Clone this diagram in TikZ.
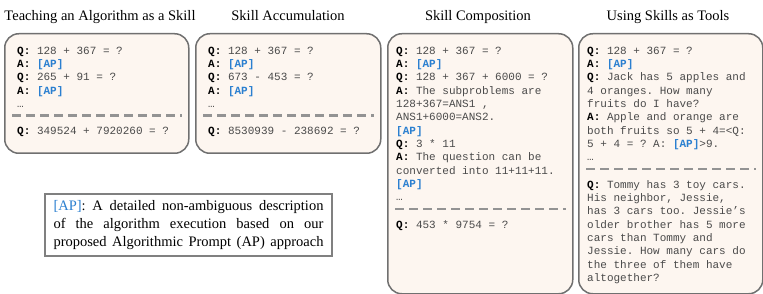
\documentclass[tikz,border=0pt]{standalone}
\usepackage{fontspec}
\setmainfont{Liberation Serif}
\setmonofont{Liberation Mono}
\usetikzlibrary{positioning, calc}
\definecolor{panelfill}{HTML}{FDF6F0}
\definecolor{panelline}{HTML}{707070}
\definecolor{apblue}{HTML}{2A7FD0}
\definecolor{qatext}{HTML}{4A4A4A}
\newcommand{\qlab}{\textbf{\color{black}Q:}}
\newcommand{\alab}{\textbf{\color{black}A:}}
\newcommand{\aptag}{\textbf{\color{apblue}[AP]}}
\tikzstyle{panel} = [rectangle, rounded corners=14pt, draw=panelline, line width=1.5pt, fill=panelfill, anchor=north west]
\tikzstyle{qa} = [anchor=north west, inner sep=0pt, align=left, text=qatext, font=\ttfamily\fontsize{11}{13.33}\selectfont]
\tikzstyle{paneltitle} = [anchor=base, font=\fontsize{14.5}{17}\selectfont]
\tikzstyle{dashsep} = [draw=gray!85, line width=2.5pt, dash pattern=on 9pt off 5pt]
\tikzstyle{legend} = [rectangle, draw=gray, line width=1.2pt, fill=white, inner xsep=8.5pt, inner ysep=5pt, minimum height=62pt, align=left, font=\fontsize{14.5}{18}\selectfont]

\begin{document}
\begin{tikzpicture}[x=1pt, y=-1pt]
    \useasboundingbox (0,0) rectangle (763,294);

    % panels
    \node[panel, minimum width=184pt, minimum height=119.5pt] (teach) at (4,33) {};
    \node[panel, minimum width=185pt, minimum height=119.5pt] (accum) at (195,33) {};
    \node[panel, minimum width=185pt, minimum height=260pt] (compo) at (387,33) {};
    \node[panel, minimum width=184pt, minimum height=260pt] (tools) at (578,33) {};

    % titles
    \node[paneltitle] (teachtitle) at (100,21) {Teaching an Algorithm as a Skill};
    \node[paneltitle] (accumtitle) at (288,21) {Skill Accumulation};
    \node[paneltitle] (compotitle) at (478,21) {Skill Composition};
    \node[paneltitle] (toolstitle) at (668,21) {Using Skills as Tools};

    % examples
    \node[qa] (teachex) at ($(teach.north west)+(13,13.5)$) {\qlab{} 128 + 367 = ?\\ \alab{} \aptag\\ \qlab{} 265 + 91 = ?\\ \alab{} \aptag\\ …};
    \node[qa] (accumex) at ($(accum.north west)+(13,13.5)$) {\qlab{} 128 + 367 = ?\\ \alab{} \aptag\\ \qlab{} 673 - 453 = ?\\ \alab{} \aptag\\ …};
    \node[qa] (compoex) at ($(compo.north west)+(9,13.5)$) {\qlab{} 128 + 367 = ?\\ \alab{} \aptag\\ \qlab{} 128 + 367 + 6000 = ?\\ \alab{} The subproblems are\\ 128+367=ANS1 ,\\ ANS1+6000=ANS2.\\ \aptag\\ \qlab{} 3 * 11\\ \alab{} The question can be\\ converted into 11+11+11.\\ \aptag\\ …};
    \node[qa] (toolsex) at ($(tools.north west)+(9,13.5)$) {\qlab{} 128 + 367 = ?\\ \alab{} \aptag\\ \qlab{} Jack has 5 apples and\\ 4 oranges. How many\\ fruits do I have?\\ \alab{} Apple and orange are\\ both fruits so 5 + 4=<Q:\\ 5 + 4 = ? A: \aptag>9.\\ …};

    % separators
    \foreach \p/\e in {teach/teachex, accum/accumex, compo/compoex, tools/toolsex}
        \draw[dashsep] ($(\p.west |- \e.south)+(8,8)$) -- ($(\p.east |- \e.south)+(-8,8)$);

    % test questions
    \node[qa] (teachq) at ($(teach.west |- teachex.south)+(13,19)$) {\qlab{} 349524 + 7920260 = ?};
    \node[qa] (accumq) at ($(accum.west |- accumex.south)+(13,19)$) {\qlab{} 8530939 - 238692 = ?};
    \node[qa] (compoq) at ($(compo.west |- compoex.south)+(9,19)$) {\qlab{} 453 * 9754 = ?};
    \node[qa] (toolsq) at ($(tools.west |- toolsex.south)+(9,19)$) {\qlab{} Tommy has 3 toy cars.\\ His neighbor, Jessie,\\ has 3 cars too. Jessie’s\\ older brother has 5 more\\ cars than Tommy and\\ Jessie. How many cars do\\ the three of them have\\ altogether?};

    % legend
    \node[legend] (aplegend) at (188.5,225) {\makebox[270pt][s]{\textcolor{apblue}{[AP]}: A detailed non-ambiguous description}\\ \makebox[270pt][s]{of the algorithm execution based on our}\\ \makebox[270pt][s]{proposed Algorithmic Prompt (AP) approach}};
\end{tikzpicture}
\end{document}
